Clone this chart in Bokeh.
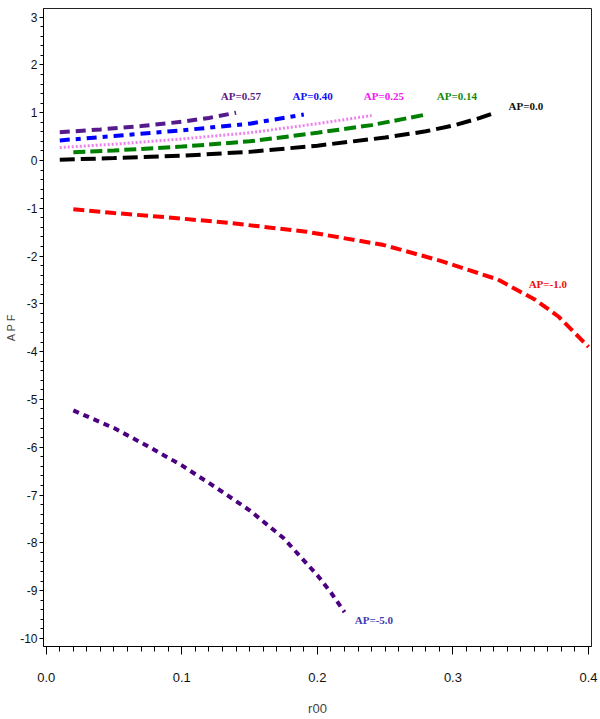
from bokeh.plotting import figure
from bokeh.models import FixedTicker, PrintfTickFormatter, Range1d
from bokeh.core.properties import value
from bokeh.embed import file_html
from bokeh.resources import INLINE

# ---- data ----
x_ap000 = [0.01, 0.05, 0.10, 0.15, 0.20, 0.25, 0.28, 0.30, 0.32, 0.33]
y_ap000 = [0.015, 0.05, 0.10, 0.18, 0.31, 0.48, 0.61, 0.73, 0.89, 0.99]

x_ap014 = [0.02, 0.05, 0.10, 0.15, 0.20, 0.24, 0.28]
y_ap014 = [0.17, 0.21, 0.29, 0.40, 0.58, 0.74, 0.96]

x_ap025 = [0.01, 0.05, 0.10, 0.15, 0.20, 0.24]
y_ap025 = [0.27, 0.34, 0.45, 0.58, 0.77, 0.94]

x_ap040 = [0.01, 0.05, 0.10, 0.15, 0.19]
y_ap040 = [0.42, 0.51, 0.63, 0.77, 0.96]

x_ap057 = [0.01, 0.04, 0.07, 0.10, 0.12, 0.14]
y_ap057 = [0.59, 0.65, 0.72, 0.81, 0.89, 1.00]

x_apm1 = [0.02, 0.05, 0.09, 0.136, 0.192, 0.249, 0.291, 0.333, 0.361, 0.378, 0.40]
y_apm1 = [-1.02, -1.10, -1.19, -1.31, -1.49, -1.77, -2.10, -2.49, -2.92, -3.27, -3.90]

x_apm5 = [0.02, 0.05, 0.075, 0.10, 0.125, 0.15, 0.175, 0.20, 0.21, 0.22]
y_apm5 = [-5.23, -5.60, -5.98, -6.38, -6.84, -7.32, -7.90, -8.68, -9.04, -9.45]

label_text = ["AP=0.57", "AP=0.40", "AP=0.25", "AP=0.14", "AP=0.0", "AP=-1.0", "AP=-5.0"]
label_x = [0.1436, 0.1965, 0.249, 0.3029, 0.3538, 0.370, 0.2417]
label_y = [1.345, 1.345, 1.345, 1.345, 1.136, -2.58, -9.62]
label_color = ["#5E1A80", "#1010F0", "#F020F0", "#138A13", "#111111", "#F01010", "#3C3CB4"]

x_ticks = [0.0, 0.1, 0.2, 0.3, 0.4]
y_ticks = list(range(-10, 4))

p = figure(width=600, height=719, output_backend="svg", toolbar_location=None,
           x_range=Range1d(-0.002, 0.4022), y_range=Range1d(-10.17, 3.18),
           min_border_left=43, min_border_right=9, min_border_top=8, min_border_bottom=73)
p.background_fill_color = "white"
p.border_fill_color = "white"
p.outline_line_color = "#222222"
p.outline_line_width = 1
p.xgrid.visible = False
p.ygrid.visible = False

# curves
p.line(x_ap000, y_ap000, line_color="black", line_width=4, line_dash="15 6")
p.line(x_ap014, y_ap014, line_color="#008000", line_width=4, line_dash="12 5")
p.line(x_ap025, y_ap025, line_color="#EE82EE", line_width=3, line_dash="2 2")
p.line(x_ap040, y_ap040, line_color="#0000FF", line_width=4, line_dash="10 6 5 6")
p.line(x_ap057, y_ap057, line_color="#551A8B", line_width=4, line_dash="10 6")
p.line(x_apm1, y_apm1, line_color="#FF0000", line_width=4, line_dash="11 5")
p.line(x_apm5, y_apm5, line_color="#4B0082", line_width=4, line_dash="6 5")

p.text(x=label_x, y=label_y, text=label_text, text_color=label_color,
       text_font=value("Liberation Serif"), text_font_style="bold",
       text_font_size="11px", text_align="center", text_baseline="middle")

# x axis
xa = p.xaxis[0]
xa.ticker = FixedTicker(ticks=x_ticks, minor_ticks=[i / 100 for i in range(0, 41)])
xa.formatter = PrintfTickFormatter(format="%.1f")
xa.axis_label = "r00"
xa.axis_label_text_font = "Liberation Sans"
xa.axis_label_text_font_style = "normal"
xa.axis_label_text_font_size = "13px"
xa.axis_label_standoff = 16
xa.major_label_text_font = "Liberation Sans"
xa.major_label_text_font_size = "13px"
xa.major_label_text_color = "#111111"
xa.major_label_standoff = 18
xa.major_tick_out = 8
xa.major_tick_in = 0
xa.minor_tick_out = 5
xa.minor_tick_in = 0
xa.axis_line_color = "black"

# y axis
ya = p.yaxis[0]
ya.ticker = FixedTicker(ticks=y_ticks, minor_ticks=[i / 5 for i in range(-51, 16)])
ya.formatter = PrintfTickFormatter(format="%d")
ya.axis_label = "A P F"
ya.axis_label_text_font = "Liberation Sans"
ya.axis_label_text_font_style = "normal"
ya.axis_label_text_font_size = "11px"
ya.axis_label_standoff = 0
ya.major_label_text_font = "Liberation Sans"
ya.major_label_text_font_size = "12px"
ya.major_label_text_color = "#111111"
ya.major_label_standoff = 2
ya.major_tick_out = 4
ya.major_tick_in = 0
ya.minor_tick_out = 3
ya.minor_tick_in = 0
ya.axis_line_color = "black"

open("out.html", "w").write(file_html(p, INLINE))
